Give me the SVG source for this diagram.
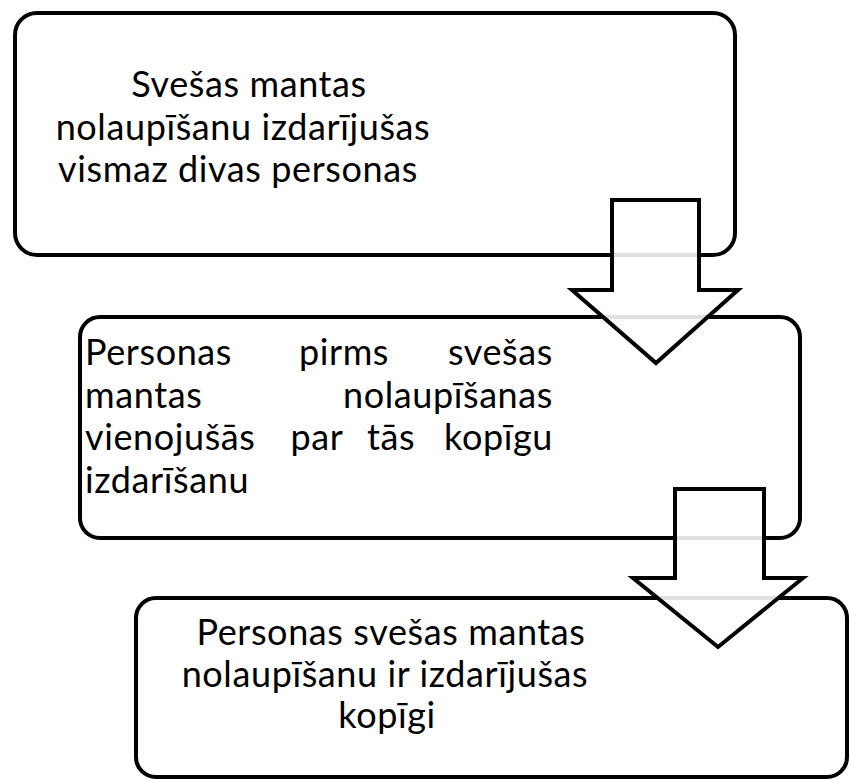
<svg xmlns="http://www.w3.org/2000/svg" width="849" height="780" viewBox="0 0 849 780">
<style>
.box{fill:#ffffff;stroke:#000;stroke-width:4}
.arr{fill:#ffffff;fill-opacity:0.88;stroke:#000;stroke-width:4;stroke-linejoin:miter}
.t{font-family:Lato,"Open Sans","Liberation Sans",sans-serif;font-size:36px;letter-spacing:0.6px;fill:#000}
.c{text-anchor:middle}
.e{text-anchor:end}
</style>
<rect width="849" height="780" fill="#fff"/>
<g id="node1">
<rect class="box" x="15" y="13" width="720" height="242" rx="22"/>
<text class="t c" x="249" y="97">Svešas mantas</text>
<text class="t c" x="243" y="140">nolaupīšanu izdarījušas</text>
<text class="t c" x="238" y="182">vismaz divas personas</text>
</g>
<g id="node2">
<rect class="box" x="80" y="317" width="720" height="221" rx="20"/>
<text class="t" x="85" y="365">Personas</text>
<text class="t c" x="344" y="365">pirms</text>
<text class="t e" x="553" y="365">svešas</text>
<text class="t" x="85" y="408">mantas</text>
<text class="t e" x="553" y="408">nolaupīšanas</text>
<text class="t" x="85" y="450">vienojušās</text>
<text class="t c" x="317" y="450">par</text>
<text class="t c" x="391" y="450">tās</text>
<text class="t e" x="553" y="450">kopīgu</text>
<text class="t" x="85" y="493">izdarīšanu</text>
</g>
<g id="node3">
<rect class="box" x="136" y="598" width="711" height="179" rx="20"/>
<text class="t c" x="391" y="645">Personas svešas mantas</text>
<text class="t c" x="385" y="687">nolaupīšanu ir izdarījušas</text>
<text class="t c" x="387" y="728">kopīgi</text>
</g>
<g id="connectors">
<polygon class="arr" points="612,200 699,200 699,290 738,290 656,363 572,290 612,290"/>
<polygon class="arr" points="675,489 764,489 764,578 803,578 718,647 633,578 675,578"/>
</g>
</svg>
